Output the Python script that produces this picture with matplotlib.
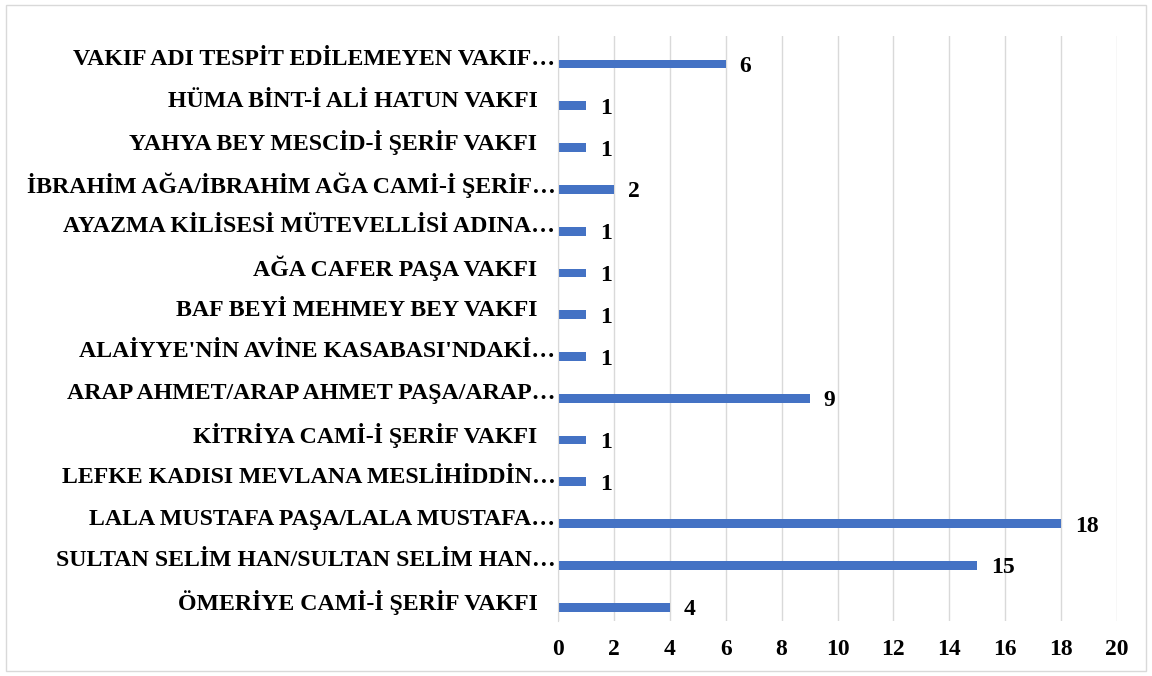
import numpy as np
import matplotlib
matplotlib.use('Agg')
import matplotlib.pyplot as plt
from matplotlib.patches import Rectangle

# bottom to top, as in the chart
labels = [
    "ÖMERİYE CAMİ-İ ŞERİF VAKFI   ",
    "SULTAN SELİM HAN/SULTAN SELİM HAN…",
    "LALA MUSTAFA PAŞA/LALA MUSTAFA…",
    "LEFKE KADISI MEVLANA MESLİHİDDİN…",
    "KİTRİYA CAMİ-İ ŞERİF VAKFI   ",
    "ARAP AHMET/ARAP AHMET PAŞA/ARAP…",
    "ALAİYYE'NİN AVİNE KASABASI'NDAKİ…",
    "BAF BEYİ MEHMEY BEY VAKFI   ",
    "AĞA CAFER PAŞA VAKFI   ",
    "AYAZMA KİLİSESİ MÜTEVELLİSİ ADINA…",
    "İBRAHİM AĞA/İBRAHİM AĞA CAMİ-İ ŞERİF…",
    "YAHYA BEY MESCİD-İ ŞERİF VAKFI   ",
    "HÜMA BİNT-İ ALİ HATUN VAKFI   ",
    "VAKIF ADI TESPİT EDİLEMEYEN VAKIF…",
]
values = [4, 15, 18, 1, 1, 9, 1, 1, 1, 1, 2, 1, 1, 6]
xticks = [0, 2, 4, 6, 8, 10, 12, 14, 16, 18, 20]

plt.rcParams['font.family'] = ['Liberation Serif', 'DejaVu Serif']
plt.rcParams['font.weight'] = 'bold'

fig = plt.figure(figsize=(11.52, 6.76), dpi=100)
ax = fig.add_axes([0.4844, 0.0814, 0.4852, 0.8653])

y = np.arange(len(values))
off = 0.17
ax.barh(y - off, values, height=0.21, color='#4472C4', zorder=3)

for yi, v in zip(y, values):
    ax.text(v + 0.5, yi - off - 0.06, str(v), va='center', ha='left',
            fontsize=17, fontweight='bold')

ax.set_xlim(0, 20)
ax.set_ylim(-0.5, len(values) - 0.5)
ax.set_xticks(xticks)
ax.set_xticklabels([str(t) for t in xticks], fontsize=17, fontweight='bold')
ax.set_yticks(y)
ax.set_yticklabels(labels, fontsize=17.2, fontweight='bold')
ax.tick_params(axis='both', length=0)
ax.tick_params(axis='y', pad=2)
ax.tick_params(axis='x', pad=13)

ax.grid(axis='x', color='#d9d9d9', linewidth=1, zorder=0)
for s in ['top', 'right', 'bottom']:
    ax.spines[s].set_visible(False)
ax.spines['left'].set_color('#d9d9d9')
ax.spines['left'].set_zorder(4)

fig.patches.append(Rectangle((0.005, 0.007), 0.99, 0.986, transform=fig.transFigure,
                             fill=False, edgecolor='#d9d9d9', linewidth=1))

fig.savefig('out.png', dpi=100)
